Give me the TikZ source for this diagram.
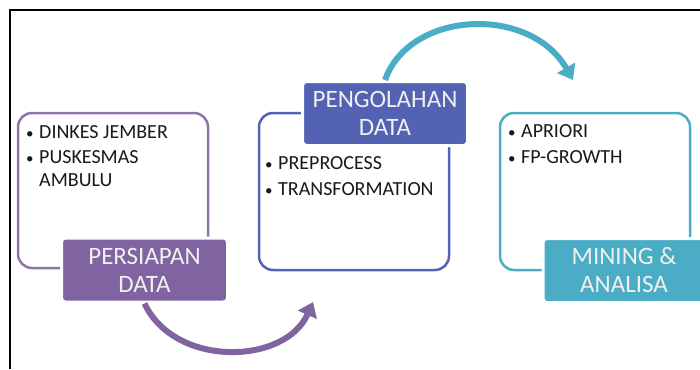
\documentclass[tikz,border=0pt]{standalone}
\usepackage{fontspec}
\usepackage{graphicx}
\setmainfont{Carlito}
\usetikzlibrary{arrows.meta}
\definecolor{prepPurple}{HTML}{8064A2}
\definecolor{procBlue}{HTML}{5462B4}
\definecolor{mineTeal}{HTML}{4BACC6}
\newcommand{\bul}{\makebox[14pt][l]{\hspace{1pt}\scalebox{0.75}{•}}}

\begin{document}
\begin{tikzpicture}
            [x=1pt, y=-1pt, font=\fontsize{20}{23}\selectfont,
            boxline/.style={draw, line width=2.5pt, rounded corners=14pt, minimum width=190pt, inner sep=0pt},
            boxtitle/.style={draw=white, line width=3pt, rounded corners=4pt, text=white!94!black, align=center,
                minimum height=64pt, inner sep=0pt, font=\fontsize{25}{28}\selectfont},
            boxtext/.style={anchor=north west, align=left, inner sep=0pt, text=black!90},
            flow/.style={line width=6pt, -{Triangle[width=20pt, length=14pt]}}]
            \useasboundingbox (0,0) rectangle (700,369);
            % page frame
            \draw [line width=1.5pt] (700,10) -- (10,10) -- (10,369);
            % outline boxes
            \node [boxline, draw=prepPurple!90, minimum height=155pt] (srcbox) at (113,190.5) {};
            \node [boxline, draw=procBlue, minimum height=157pt] (procbox) at (354,191.5) {};
            \node [boxline, draw=mineTeal, minimum height=157pt] (minebox) at (595,191.5) {};
            % titles
            \node [boxtitle, fill=prepPurple, minimum width=166pt] (persiapan) at (144.5,270) {PERSIAPAN\\DATA};
            \node [boxtitle, fill=procBlue, minimum width=165pt] (pengolahan) at (385,113.5) {PENGOLAHAN\\DATA};
            \node [boxtitle, fill=mineTeal, minimum width=162pt] (mining) at (624,270.5) {MINING \&\\ANALISA};
            % bullet lists
            \node [boxtext] (srclist) at (25,125) {\bul DINKES JEMBER\\[2pt] \bul PUSKESMAS\\ \hphantom{\bul}AMBULU};
            \node [boxtext] (proclist) at (264,156) {\bul PREPROCESS\\[3pt] \bul TRANSFORMATION};
            \node [boxtext] (minelist) at (507,124) {\bul APRIORI\\[3pt] \bul FP-GROWTH};
            % flow arrows
            \coordinate (tipproc) at (313,302);
            \coordinate (tipmine) at (573,80);
            \draw [flow, prepPurple] (persiapan.south) .. controls (175,368) and (285,365) .. (tipproc);
            \draw [flow, mineTeal] (pengolahan.north) .. controls (410,10) and (530,5) .. (tipmine);
\end{tikzpicture}
\end{document}
